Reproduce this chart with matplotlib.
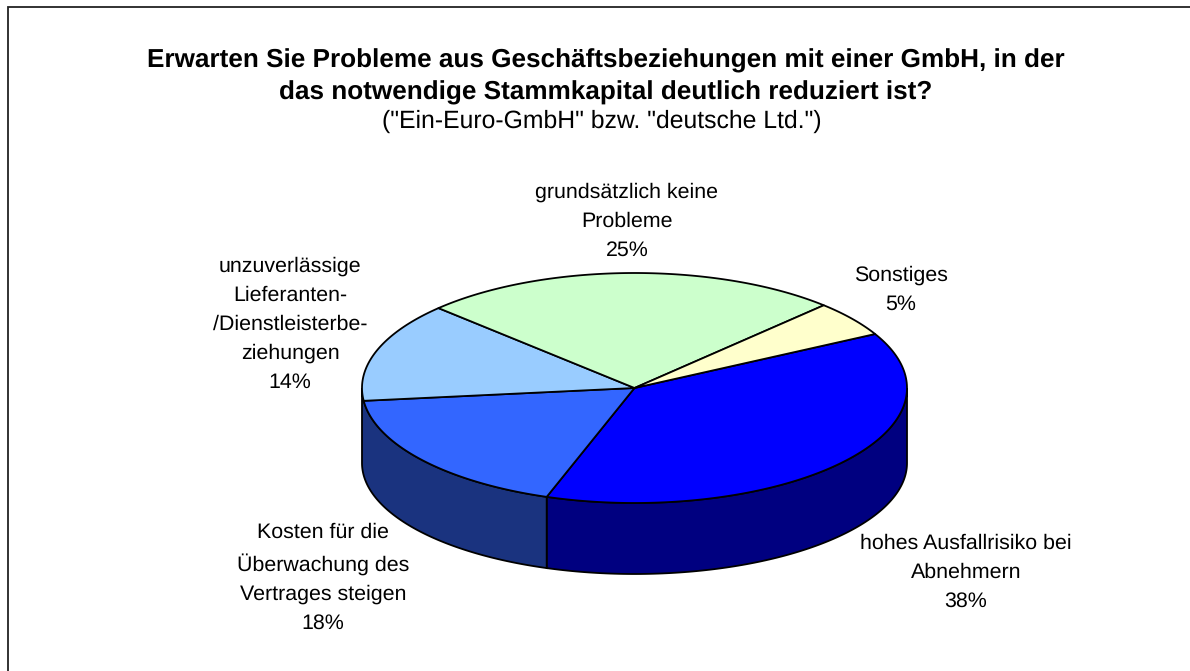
import matplotlib
matplotlib.use('Agg')
import matplotlib.pyplot as plt
import numpy as np

plt.rcParams['font.family'] = ['Liberation Sans', 'DejaVu Sans']
plt.rcParams['text.hinting'] = 'none'

labels = ['hohes Ausfallrisiko bei\nAbnehmern\n38%',
          'Kosten für die\nÜberwachung des\nVertrages steigen\n18%',
          'unzuverlässige\nLieferanten-\n/Dienstleisterbe-\nziehungen\n14%',
          'grundsätzlich keine\nProbleme\n25%',
          'Sonstiges\n5%']
values = [38, 18, 14, 25, 5]
top_colors = ['#0000FF', '#3366FF', '#99CCFF', '#CCFFCC', '#FFFFCC']
side_colors = ['#000080', '#1A337F', '#4D667F', '#667F66', '#7F7F66']
label_pos = [(966, 572), (323, 578), (290, 324), (627, 221), (901, 290)]

start_angle = 28
cx, cy = 634.5, 388
rx, ry = 272.5, 115
# lower rim is a bit flatter than the top one
cy_low, ry_low = 463, 111

W, H = 1190, 671
fig = plt.figure(figsize=(W / 100, H / 100), dpi=100)
ax = fig.add_axes([0, 0, 1, 1])
ax.set_xlim(0, W)
ax.set_ylim(H, 0)
ax.axis('off')

# frame only shows on top and left
ax.plot([8, 8, W], [H, 6.5, 6.5], color='#222222', lw=1.3, solid_joinstyle='miter')

ax.text(606, 61, 'Erwarten Sie Probleme aus Geschäftsbeziehungen mit einer GmbH, in der',
        ha='center', va='center', fontsize=18.8, fontweight='bold', color='black')
ax.text(606, 92.5, 'das notwendige Stammkapital deutlich reduziert ist?',
        ha='center', va='center', fontsize=18.8, fontweight='bold', color='black')
ax.text(601.5, 121, '("Ein-Euro-GmbH" bzw. "deutsche Ltd.")',
        ha='center', va='center', fontsize=17.8, color='black')


def rim(a0, a1, c0=cy, r0=ry):
    t = np.radians(np.linspace(a0, a1, 120))
    return cx + rx * np.cos(t), c0 - r0 * np.sin(t)


# slice angles, clockwise from the start angle
ends = start_angle - np.cumsum(values) * 3.6
starts = np.r_[start_angle, ends[:-1]]

# side walls: only the front half of the rim is visible
for a0, a1, c in zip(starts, ends, side_colors):
    if a0 <= -170:
        continue
    lo = -180 if a1 < -170 else a1
    hi = min(a0, 0)
    x, y = rim(hi, lo)
    x2, y2 = rim(lo, hi, cy_low, ry_low)
    ax.fill(np.r_[x, x2], np.r_[y, y2], fc=c, ec='black', lw=1.3, zorder=2)

# top faces
for a0, a1, c in zip(starts, ends, top_colors):
    x, y = rim(a0, a1)
    ax.fill(np.r_[cx, x], np.r_[cy, y], fc=c, ec='black', lw=1.3, zorder=3, joinstyle='round')

for txt, (lx, ly) in zip(labels, label_pos):
    ax.text(lx, ly, txt, ha='center', va='center', fontsize=15.4, color='black',
            linespacing=1.62, zorder=4)

fig.savefig('out.png', dpi=100, facecolor='white')
